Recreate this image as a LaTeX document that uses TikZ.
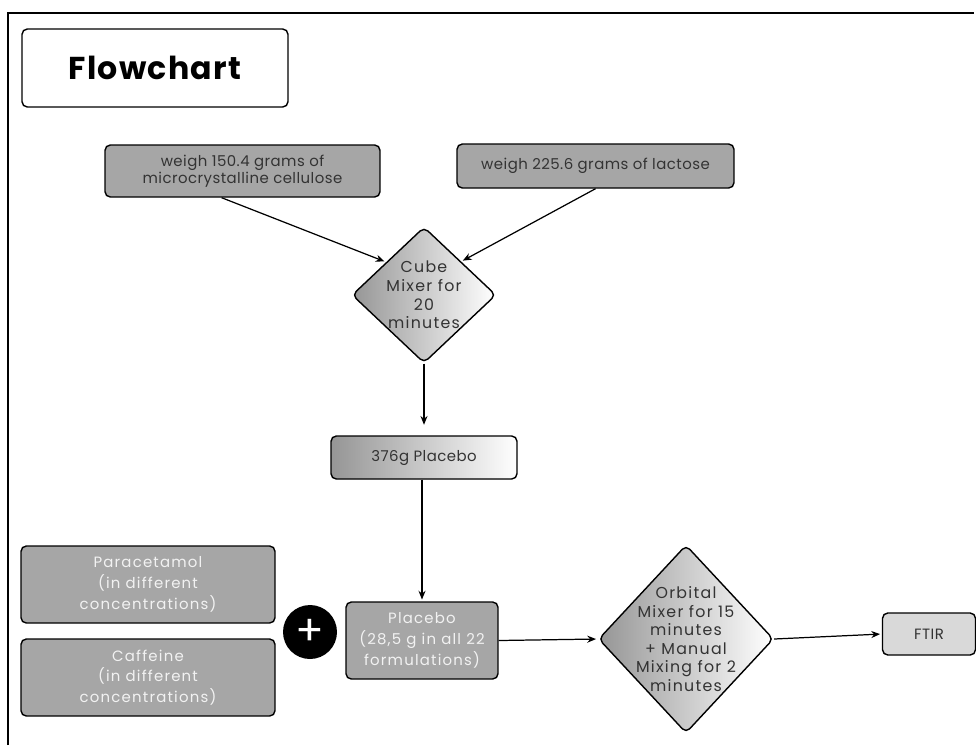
\documentclass[tikz,border=0pt]{standalone}
\usepackage{fontspec}
\setmainfont{Poppins}
\usetikzlibrary{shapes.geometric,arrows.meta}
\definecolor{boxgray}{HTML}{A6A6A6}
\definecolor{lightgray}{HTML}{D9D9D9}
\definecolor{txtdark}{HTML}{333333}
\definecolor{txtlight}{HTML}{F2F2F2}
\begin{document}
\begin{tikzpicture}[x=0.02cm,y=-0.02cm,->,>={Stealth[length=5pt,width=4pt]},shorten >=1pt,line width=0.7pt]
		\tikzstyle{box}=[draw=black,line width=0.8pt,rounded corners=3pt,fill=boxgray,text=txtdark,font=\fontsize{8.5}{9.8}\selectfont\addfontfeatures{LetterSpace=3},align=center,inner sep=0pt]
		\tikzstyle{lbox}=[box,text=txtlight,font=\fontsize{8.5}{11.8}\selectfont\addfontfeatures{LetterSpace=8}]
		\tikzstyle{dia}=[draw=black,line width=0.8pt,diamond,rounded corners=3pt,left color=boxgray!90!black,right color=white,inner sep=0pt]
		\tikzstyle{diatext}=[text=txtdark,font=\fontsize{9}{10.6}\selectfont\addfontfeatures{LetterSpace=8},align=center,inner sep=0pt]
		
		\useasboundingbox (0,0) rectangle (976,745);
		\draw[-,line width=1.1pt] (8,745) -- (8,13) -- (976,13);
		
		\node[box,fill=white,text=black,minimum width=5.32cm,minimum height=1.56cm,font=\fontsize{18}{20}\selectfont\bfseries\addfontfeatures{LetterSpace=4}] (title) at (155,68) {Flowchart};
		
		\node[box,minimum width=5.5cm,minimum height=1.04cm] (mcc) at (242.5,171) {weigh 150.4 grams of\\microcrystalline cellulose};
		\node[box,minimum width=5.54cm,minimum height=0.88cm] (lac) at (595.5,166) {weigh 225.6 grams of lactose};
		\node[dia,minimum width=2.88cm,minimum height=2.72cm] (cube) at (424,295) {};
		\node[diatext] (cubet) at (cube) {Cube\\Mixer for\\20\\minutes};
		\node[box,left color=boxgray!90!black,right color=white,minimum width=3.72cm,minimum height=0.86cm] (plc) at (424,457.5) {376g Placebo};
		
		\node[lbox,minimum width=5.08cm,minimum height=1.54cm] (para) at (148,584.5) {Paracetamol\\(in different\\concentrations)};
		\node[lbox,minimum width=5.08cm,minimum height=1.54cm] (caf) at (148,677.5) {Caffeine\\(in different\\concentrations)};
		\node[circle,fill=black,text=white,minimum size=1.08cm,inner sep=0pt,font=\fontsize{24}{24}\selectfont] (plus) at (310,632) {+};
		\node[lbox,minimum width=3.04cm,minimum height=1.54cm] (plc2) at (422,640.5) {Placebo\\(28,5 g in all 22\\formulations)};
		
		\node[dia,minimum width=3.5cm,minimum height=3.76cm] (orb) at (686,639) {};
		\node[diatext] (orbt) at (orb) {Orbital\\Mixer for 15\\minutes\\+ Manual\\Mixing for 2\\minutes};
		\node[box,fill=lightgray,minimum width=1.86cm,minimum height=0.84cm] (ftir) at (929,634) {FTIR};
		
		\draw (mcc.232) -> (cube.139);
		\draw (lac.south) -> (cube.42);
		\draw[shorten >=6pt] (cube.south) -> (plc.north);
		\draw (plc2.north |- plc.south) -> (plc2.north);
		\draw (plc2.east) -> (orb.west);
		\draw (orb.east) -> (ftir.west);
	\end{tikzpicture}
\end{document}
